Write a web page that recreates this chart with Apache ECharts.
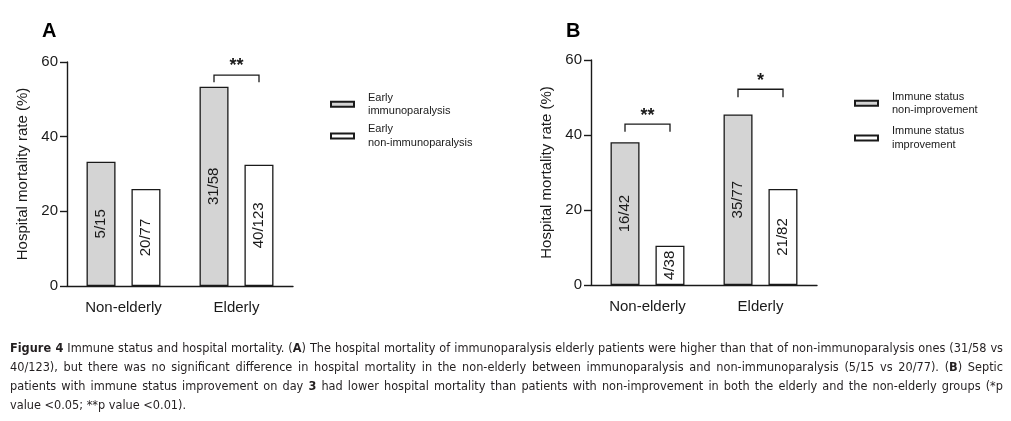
<!DOCTYPE html>
<html>
<head>
<meta charset="utf-8">
<script src="https://cdn.jsdelivr.net/npm/echarts@6/dist/echarts.min.js"></script>
<style>
  html, body { margin: 0; padding: 0; background: #fff; }
  #wrap { position: relative; width: 1011px; height: 421px; overflow: hidden; }
  #main { position: absolute; left: 0; top: 0; width: 1011px; height: 421px; }
  #caption { position: absolute; left: 10px; top: 338px; width: 993px;
    font-family: "DejaVu Sans Condensed", "Liberation Sans Narrow", "Liberation Sans", sans-serif;
    font-size: 12.6px; line-height: 19px; color: #231f20; }
  #caption div { white-space: nowrap; text-align: justify; text-align-last: justify; }
  #caption div.last { text-align-last: left; }
</style>
</head>
<body>
<div id="wrap">
  <div id="main"></div>
  <div id="caption">
    <div><b>Figure 4</b> Immune status and hospital mortality. (<b>A</b>) The hospital mortality of immunoparalysis elderly patients were higher than that of non-immunoparalysis ones (31/58 vs</div>
    <div>40/123), but there was no significant difference in hospital mortality in the non-elderly between immunoparalysis and non-immunoparalysis (5/15 vs 20/77). (<b>B</b>) Septic</div>
    <div>patients with immune status improvement on day <b>3</b> had lower hospital mortality than patients with non-improvement in both the elderly and the non-elderly groups (*p</div>
    <div class="last">value &lt;0.05; **p value &lt;0.01).</div>
  </div>
</div>
<script>
// ---- data ----
const categories = ['Non-elderly', 'Elderly'];
const yTicks = [0, 20, 40, 60];

const namesA = ['Early immunoparalysis', 'Early non-immunoparalysis'];
const legendTextA = ['Early\nimmunoparalysis', 'Early\nnon-immunoparalysis'];
const valuesA1 = [33.3, 53.4];
const countsA1 = ['5/15', '31/58'];
const valuesA2 = [26.0, 32.5];
const countsA2 = ['20/77', '40/123'];
const sigA = [{ cat: 1, top: 56.5, leg: 54.6, mark: '**', markY: 60 }];

const namesB = ['Immune status non-improvement', 'Immune status improvement'];
const legendTextB = ['Immune status\nnon-improvement', 'Immune status\nimprovement'];
const valuesB1 = [38.1, 45.5];
const countsB1 = ['16/42', '35/77'];
const valuesB2 = [10.5, 25.6];
const countsB2 = ['4/38', '21/82'];
const sigB = [
  { cat: 0, top: 42.9, leg: 40.9, mark: '**', markY: 46.1 },
  { cat: 1, top: 52.2, leg: 50.1, mark: '*', markY: 55.5 }
];

// ---- styling ----
const FONT = '"Liberation Sans", Arial, sans-serif';
const INK = '#1a1a1a';
const GRAY = '#d4d4d4';

const legendMap = {};
namesA.forEach((n, i) => legendMap[n] = legendTextA[i]);
namesB.forEach((n, i) => legendMap[n] = legendTextB[i]);

function xAxis(gi) {
  return {
    type: 'category', gridIndex: gi, data: categories,
    axisLine: { lineStyle: { color: INK, width: 1.4 } },
    axisTick: { alignWithLabel: true, length: 7, lineStyle: { color: INK, width: 1.4 } },
    axisLabel: { color: INK, fontSize: 15, fontFamily: FONT, margin: 14 }
  };
}
function yAxis(gi) {
  return {
    type: 'value', gridIndex: gi, min: yTicks[0], max: yTicks[yTicks.length - 1],
    interval: yTicks[1] - yTicks[0],
    name: 'Hospital mortality rate (%)', nameLocation: 'middle', nameGap: 37,
    nameTextStyle: { color: INK, fontSize: 15, fontFamily: FONT },
    axisLine: { show: true, lineStyle: { color: INK, width: 1.4 } },
    axisTick: { show: true, length: 7, lineStyle: { color: INK, width: 1.4 } },
    axisLabel: { color: INK, fontSize: 15, fontFamily: FONT, margin: 9 },
    splitLine: { show: false }
  };
}
function barSeries(name, gi, values, counts, fill) {
  return {
    type: 'bar', name: name, xAxisIndex: gi, yAxisIndex: gi,
    data: values, barWidth: 29, barGap: '55%',
    itemStyle: { color: fill, borderColor: INK, borderWidth: 1.3 },
    label: {
      show: true, position: 'inside', rotate: 90, color: INK,
      fontSize: 15, fontFamily: FONT,
      formatter: p => counts[p.dataIndex]
    },
    emphasis: { disabled: true }, silent: true, animation: false
  };
}
function sigSeries(gi, sig) {
  return {
    type: 'custom', xAxisIndex: gi, yAxisIndex: gi, clip: false, z: 10,
    silent: true, animation: false,
    data: sig.map(s => [s.cat, s.top]),
    renderItem: (params, api) => {
      const s = sig[params.dataIndex];
      const c = api.coord([s.cat, s.top]);
      const legPx = api.coord([s.cat, s.leg])[1];
      const markPx = api.coord([s.cat, s.markY])[1];
      const half = 22.5;
      return {
        type: 'group',
        children: [
          { type: 'polyline',
            shape: { points: [[c[0] - half, legPx], [c[0] - half, c[1]], [c[0] + half, c[1]], [c[0] + half, legPx]] },
            style: { stroke: INK, lineWidth: 1.3, fill: null } },
          { type: 'text',
            style: { text: s.mark, x: c[0], y: markPx + 4, align: 'center', verticalAlign: 'middle',
                     fontSize: 18, fontWeight: 'bold', fontFamily: FONT, fill: INK } }
        ]
      };
    }
  };
}
function legend(left, top, names, gap) {
  return {
    orient: 'vertical', left: left, top: top, data: names,
    icon: 'rect', itemWidth: 23, itemHeight: 5, itemGap: gap,
    selectedMode: false,
    formatter: n => legendMap[n],
    textStyle: { color: INK, fontSize: 11, lineHeight: 13.3, fontFamily: FONT, padding: [0, 0, 0, 9] }
  };
}

const chart = echarts.init(document.getElementById('main'), null, { renderer: 'canvas' });
chart.setOption({
  animation: false,
  backgroundColor: '#fff',
  title: [
    { text: 'A', left: 42, top: 21, padding: 0, textStyle: { fontSize: 20, fontWeight: 'bold', color: '#000', fontFamily: FONT } },
    { text: 'B', left: 566, top: 21, padding: 0, textStyle: { fontSize: 20, fontWeight: 'bold', color: '#000', fontFamily: FONT } }
  ],
  grid: [
    { left: 67, top: 62, width: 226, height: 224, containLabel: false },
    { left: 591, top: 60, width: 226, height: 225, containLabel: false }
  ],
  legend: [
    legend(325, 86, namesA, 5),
    legend(849, 85, namesB, 8)
  ],
  xAxis: [xAxis(0), xAxis(1)],
  yAxis: [yAxis(0), yAxis(1)],
  series: [
    barSeries(namesA[0], 0, valuesA1, countsA1, GRAY),
    barSeries(namesA[1], 0, valuesA2, countsA2, '#ffffff'),
    sigSeries(0, sigA),
    barSeries(namesB[0], 1, valuesB1, countsB1, GRAY),
    barSeries(namesB[1], 1, valuesB2, countsB2, '#ffffff'),
    sigSeries(1, sigB)
  ]
});
</script>
</body>
</html>
